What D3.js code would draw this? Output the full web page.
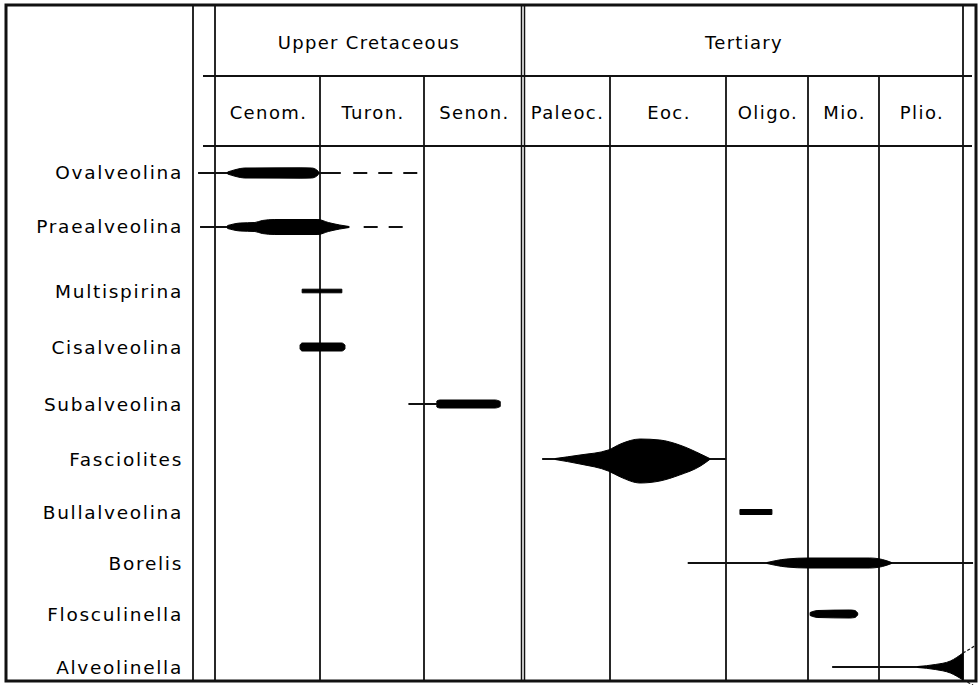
<!DOCTYPE html>
<html>
<head>
<meta charset="utf-8">
<script src="https://cdn.jsdelivr.net/npm/d3@7"></script>
<style>
  body { margin: 0; background: #fff; }
  text { font-family: "DejaVu Sans", sans-serif; fill: #000; }
</style>
</head>
<body>
<div id="chart"></div>
<script>
// periods and stages (stage index 0..8 on the time axis, -1 = pre-Cenomanian column)
const periods = [
  { name: "Upper Cretaceous", from: 0, to: 3 },
  { name: "Tertiary", from: 3, to: 8 }
];
const stages = ["Cenom.", "Turon.", "Senon.", "Paleoc.", "Eoc.", "Oligo.", "Mio.", "Plio."];

const taxa = ["Ovalveolina", "Praealveolina", "Multispirina", "Cisalveolina", "Subalveolina",
  "Fasciolites", "Bullalveolina", "Borelis", "Flosculinella", "Alveolinella"];

// range line [start, end] in stage units (null = none)
const ranges = [
  [-0.77, 1.20], [-0.68, 1.27], null, null, [1.85, 2.13],
  [3.22, 5.0], null, [4.67, 8.12], null, [6.34, 8.0]
];
// uncertain (dashed) extension
const dashed = [
  [1.32, 1.96], [1.42, 1.90], null, null, null, null, null, null, null, null
];
// abundance profile: [stage units, half-width above, half-width below]
const profiles = [
  [[0.12, 1, 1], [0.20, 3.5, 3.5], [0.28, 5, 5], [0.81, 5.2, 5.2], [0.92, 5, 5], [0.97, 3, 3], [0.99, 0.5, 0.5]],
  [[0.12, 1.5, 1.5], [0.24, 4, 4], [0.38, 4.5, 4.5], [0.45, 6.5, 6.5], [0.57, 7.5, 7.5], [0.98, 7.5, 7.5],
   [1.08, 4.5, 4.5], [1.19, 2, 2], [1.28, 0.5, 0.5]],
  [[0.83, 1.8, 1.8], [1.21, 1.8, 1.8]],
  [[0.81, 2, 2], [0.83, 4, 4], [1.21, 4, 4], [1.24, 2, 2]],
  [[2.13, 3, 3], [2.16, 4, 4], [2.72, 4, 4], [2.77, 2.5, 2.5]],
  [[3.37, 0.5, 0.5], [3.655, 4, 5], [3.98, 9, 12], [4.09, 15, 18], [4.26, 20, 24], [4.43, 19, 22],
   [4.60, 14, 16], [4.78, 5, 7], [4.86, 0.5, 0.5]],
  [[5.17, 2.5, 2.5], [5.56, 2.5, 2.5]],
  [[5.50, 0.5, 0.5], [5.74, 4, 4], [6.0, 5, 5], [6.87, 5, 5], [7.04, 3.5, 3.5], [7.15, 0.5, 0.5]],
  [[6.03, 1.5, 1.5], [6.14, 3.5, 3.5], [6.59, 4, 4], [6.66, 3.5, 3.5], [6.70, 1, 1]],
  [[7.46, 0.5, 0.5], [7.67, 2.5, 2.5], [7.85, 6, 6], [8.0, 14, 13]]
];
// dotted continuation of the Alveolinella flare: [from, to] as [stage units, offset]
const flare = [
  [[8.0, -14], [8.14, -21]],
  [[8.0, 13], [8.12, 18]]
];

const W = 978, H = 685;
const svg = d3.select("#chart").append("svg").attr("width", W).attr("height", H);

const x = d3.scaleLinear()
  .domain([-1, 0, 1, 2, 3, 4, 5, 6, 7, 8])
  .range([193, 215, 320, 424, 523, 610, 726, 808, 879, 963]);
const y = d3.scaleLinear()
  .domain(d3.range(taxa.length))
  .range([173, 227, 291, 347, 404, 459, 512, 563, 614, 667]);

const yTop = 5, yBottom = 681, row1 = 76, row2 = 146;

// grid
const g = svg.append("g").attr("stroke", "#111").attr("fill", "none");
g.append("rect").attr("x", 6).attr("y", yTop).attr("width", 970).attr("height", yBottom - yTop)
  .attr("stroke-width", 3);
[193, 215].forEach(v => g.append("line").attr("x1", v).attr("x2", v).attr("y1", yTop).attr("y2", yBottom).attr("stroke-width", 1.8));
g.append("line").attr("x1", x(8)).attr("x2", x(8)).attr("y1", yTop).attr("y2", yBottom).attr("stroke-width", 1.8);
[x(3) - 1.5, x(3) + 1.5].forEach(v => g.append("line").attr("x1", v).attr("x2", v).attr("y1", yTop).attr("y2", yBottom).attr("stroke-width", 1.5));
d3.range(1, 8).filter(i => i !== 3).forEach(i =>
  g.append("line").attr("x1", x(i)).attr("x2", x(i)).attr("y1", row1).attr("y2", yBottom).attr("stroke-width", 1.8));
[row1, row2].forEach(v => g.append("line").attr("x1", 203).attr("x2", 972).attr("y1", v).attr("y2", v).attr("stroke-width", 2));

// header text
svg.selectAll(".period").data(periods).enter().append("text")
  .attr("x", d => (x(d.from) + x(d.to)) / 2 + (d.from === 3 ? 1 : 0))
  .attr("y", (yTop + row1) / 2 + 2)
  .attr("text-anchor", "middle").attr("dominant-baseline", "central")
  .attr("font-size", 18).attr("letter-spacing", 1.3)
  .text(d => d.name);
svg.selectAll(".stage").data(stages).enter().append("text")
  .attr("x", (d, i) => (x(i) + x(i + 1)) / 2 + 1)
  .attr("y", (row1 + row2) / 2 + 1)
  .attr("text-anchor", "middle").attr("dominant-baseline", "central")
  .attr("font-size", 18).attr("letter-spacing", 1.4)
  .text(d => d);

// taxon labels
svg.selectAll(".taxon").data(taxa).enter().append("text")
  .attr("x", 183)
  .attr("y", (d, i) => y(i) - (i < 2 ? 1 : 0))
  .attr("text-anchor", "end").attr("dominant-baseline", "central")
  .attr("font-size", 18.5).attr("letter-spacing", 1.7)
  .text(d => d);

// range lines
taxa.forEach((t, i) => {
  if (ranges[i]) svg.append("line")
    .attr("x1", x(ranges[i][0])).attr("x2", x(ranges[i][1]))
    .attr("y1", y(i)).attr("y2", y(i))
    .attr("stroke", "#111").attr("stroke-width", 2);
  if (dashed[i]) svg.append("line")
    .attr("x1", x(dashed[i][0])).attr("x2", x(dashed[i][1]))
    .attr("y1", y(i)).attr("y2", y(i))
    .attr("stroke", "#111").attr("stroke-width", 2)
    .attr("stroke-dasharray", "14,11");
});

// abundance bodies
taxa.forEach((t, i) => {
  const area = d3.area()
    .x(d => x(d[0]))
    .y0(d => y(i) - d[1])
    .y1(d => y(i) + d[2])
    .curve(d3.curveMonotoneX);
  svg.append("path").datum(profiles[i]).attr("d", area)
    .attr("fill", "#000").attr("stroke", "#000").attr("stroke-width", 1)
    .attr("stroke-linejoin", "round");
});

// dotted flare continuation
const ai = taxa.indexOf("Alveolinella");
flare.forEach(seg => svg.append("line")
  .attr("x1", x(seg[0][0])).attr("y1", y(ai) + seg[0][1])
  .attr("x2", x(seg[1][0])).attr("y2", y(ai) + seg[1][1])
  .attr("stroke", "#111").attr("stroke-width", 1.2).attr("stroke-dasharray", "3,2"));
</script>
</body>
</html>
